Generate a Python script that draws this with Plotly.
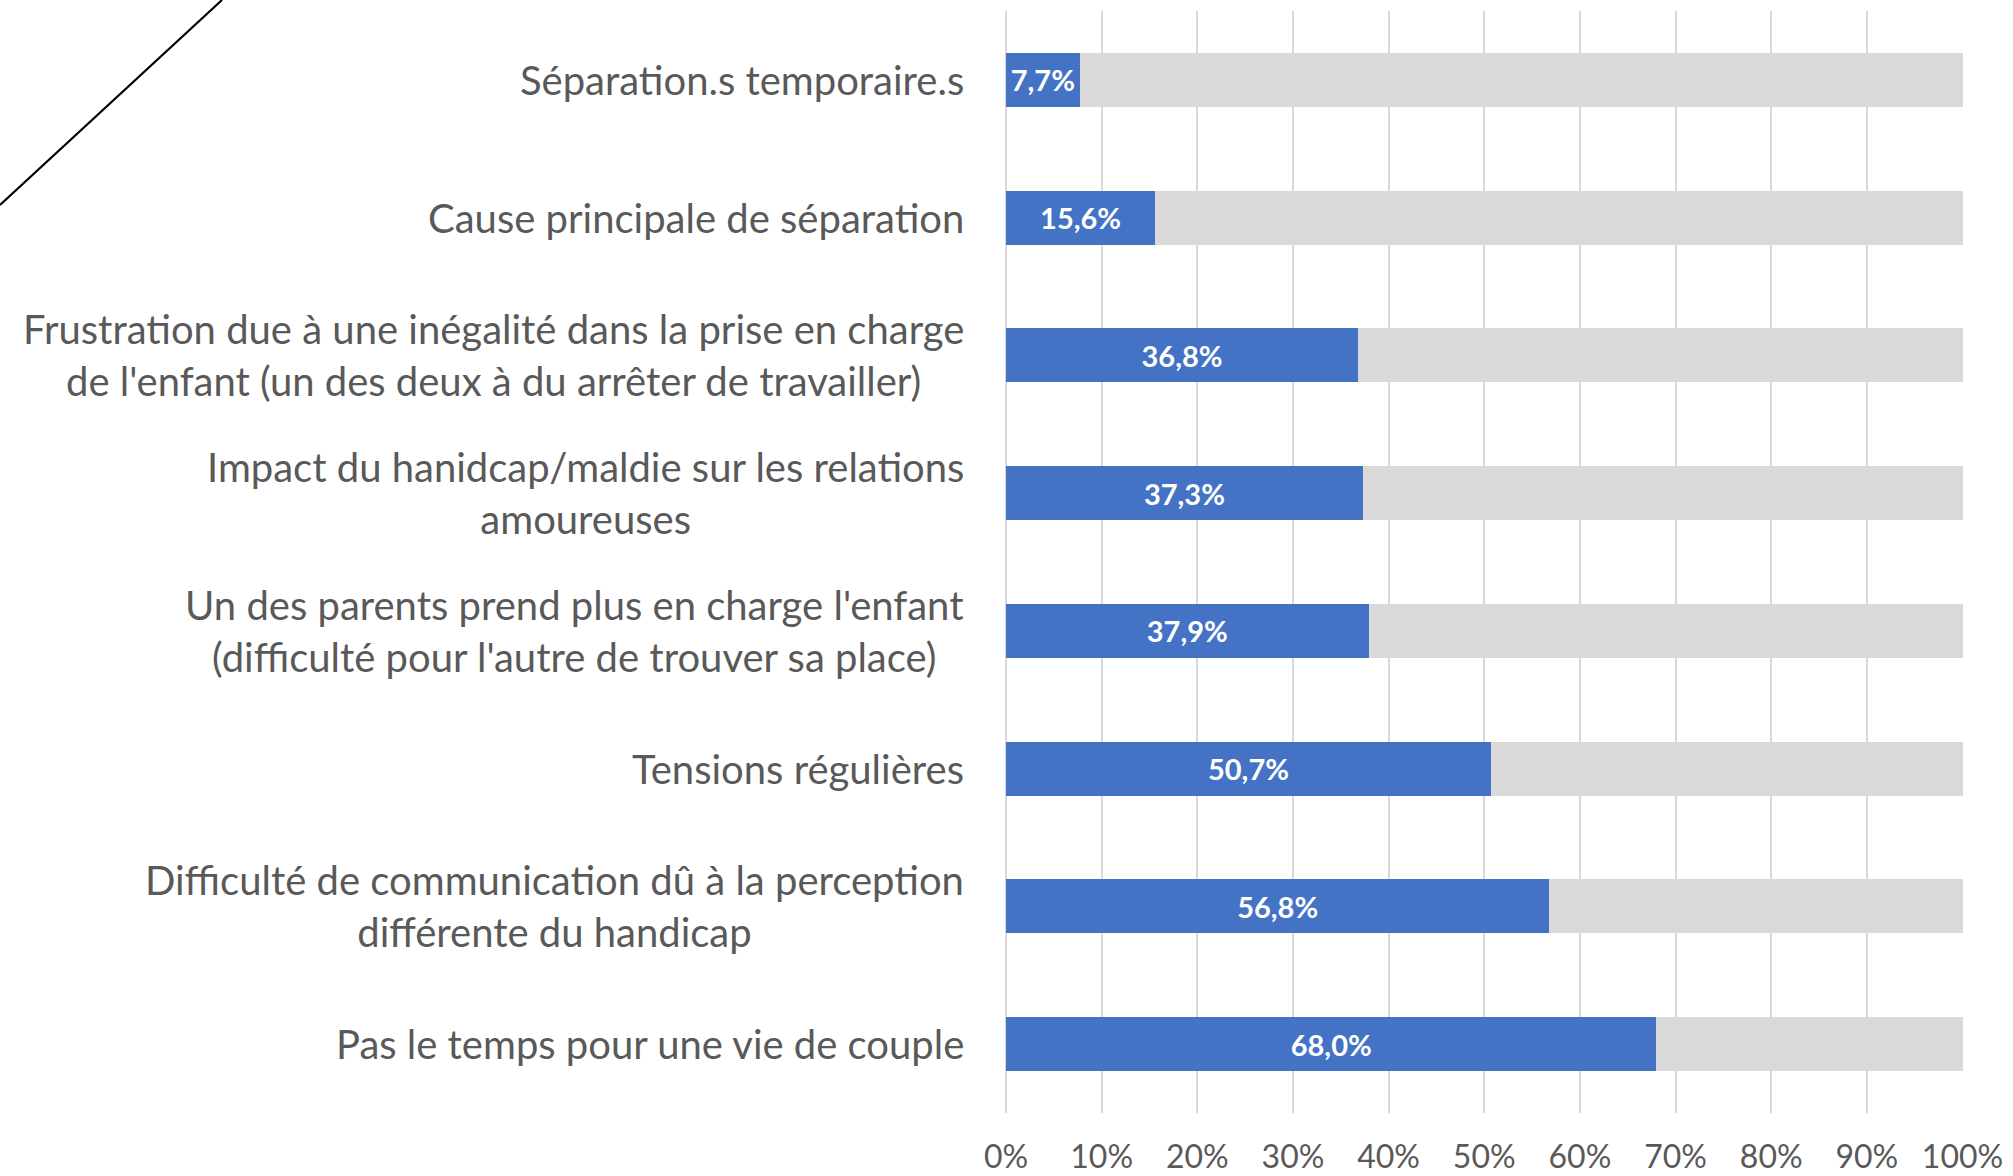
import plotly.graph_objects as go

# Survey results: share of respondents per item (percent)
categories = [
    "Séparation.s temporaire.s",
    "Cause principale de séparation",
    "Frustration due à une inégalité dans la prise en charge<br>de l'enfant (un des deux à du arrêter de travailler)",
    "Impact du hanidcap/maldie sur les relations<br>amoureuses",
    "Un des parents prend plus en charge l'enfant<br>(difficulté pour l'autre de trouver sa place)",
    "Tensions régulières",
    "Difficulté de communication dû à la perception<br>différente du handicap",
    "Pas le temps pour une vie de couple",
]
values = [7.7, 15.6, 36.8, 37.3, 37.9, 50.7, 56.8, 68.0]
remainder = [round(100 - v, 1) for v in values]
tick_values = [0, 10, 20, 30, 40, 50, 60, 70, 80, 90, 100]
tick_labels = ["0%", "10%", "20%", "30%", "40%", "50%", "60%", "70%", "80%", "90%", "100%"]

BLUE = "#4472C4"
LIGHT = "#D9D9D9"
TEXT = "#595959"
FONT = "Lato"

W, H = 2013, 1176
M_L, M_R, M_T, M_B = 1006, 50, 11, 63

fig = go.Figure()
fig.add_trace(go.Bar(
    y=categories, x=values, orientation="h",
    marker=dict(color=BLUE, line=dict(width=0)),
    texttemplate="%{x:.1f}%", textposition="inside",
    insidetextanchor="middle", constraintext="none",
    textfont=dict(family=FONT, size=29, color="white", weight="bold"),
    hoverinfo="skip",
))
fig.add_trace(go.Bar(
    y=categories, x=remainder, orientation="h",
    marker=dict(color=LIGHT, line=dict(width=0)),
    hoverinfo="skip",
))

# Category labels: right-aligned block, centred lines
for cat in categories:
    fig.add_annotation(
        x=0, xref="paper", y=cat, yref="y",
        text=cat, showarrow=False,
        xanchor="right", yanchor="middle", align="center",
        xshift=-40,
        font=dict(family=FONT, size=40, color=TEXT),
    )

# Decorative diagonal stroke in the upper-left corner
pw = W - M_L - M_R
ph = H - M_T - M_B
def px_to_paper(px, py):
    return (px - M_L) / pw, (H - M_B - py) / ph

x0, y0 = px_to_paper(0, 205)
x1, y1 = px_to_paper(222, 0)
fig.add_shape(type="line", xref="paper", yref="paper",
              x0=x0, y0=y0, x1=x1, y1=y1,
              line=dict(color="black", width=2.2))

fig.update_layout(
    width=W, height=H,
    margin=dict(l=M_L, r=M_R, t=M_T, b=M_B, autoexpand=False),
    barmode="stack", bargap=0.608,
    showlegend=False,
    separators=", ",
    plot_bgcolor="white", paper_bgcolor="white",
    xaxis=dict(
        range=[0, 100.05], tickvals=tick_values, ticktext=tick_labels,
        showgrid=True, gridcolor=LIGHT, gridwidth=1.6,
        zeroline=True, zerolinecolor=LIGHT, zerolinewidth=1.6,
        showline=False, ticks="", automargin=False,
        ticklabelstandoff=22,
        tickfont=dict(family=FONT, size=32, color=TEXT),
        fixedrange=True,
    ),
    yaxis=dict(
        categoryorder="array", categoryarray=categories,
        autorange="reversed", showticklabels=False, automargin=False,
        showgrid=False, zeroline=False, showline=False, ticks="",
        fixedrange=True,
    ),
)

fig.write_html("out.html")
